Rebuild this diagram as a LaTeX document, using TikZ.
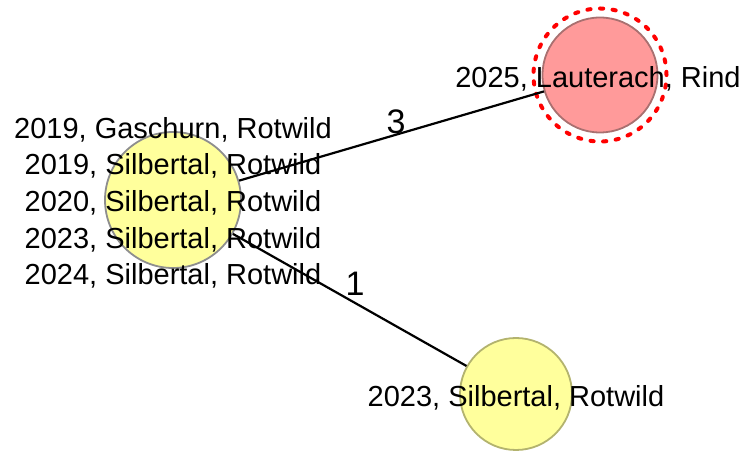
\documentclass[tikz,border=0pt]{standalone}
\usepackage{fontspec}
\setmainfont{Liberation Sans}
\definecolor{nodeyellow}{HTML}{FFFF9C}
\definecolor{nodepink}{HTML}{FF9A9A}
\definecolor{rimgray}{HTML}{8E8E8E}
\definecolor{rimolive}{HTML}{B3B36E}
\definecolor{rimrose}{HTML}{A97070}
\tikzset{
  vertex/.style={circle, draw, line width=1.8pt, inner sep=0pt},
  yellowvertex/.style={vertex, fill=nodeyellow, draw=rimgray},
  pinkvertex/.style={vertex, fill=nodepink, draw=rimrose},
  vlabel/.style={font=\fontsize{29}{36.7}\selectfont, align=center, inner sep=0pt, anchor=base},
  elabel/.style={font=\fontsize{34}{40}\selectfont, inner sep=0pt, anchor=base},
  link/.style={line width=2.2pt, black},
  halo/.style={draw=red, line width=4pt, dash pattern=on 3.2pt off 9.46pt, line cap=round}
}
\begin{document}
\begin{tikzpicture}[x=1pt, y=1pt]
  \useasboundingbox (0,0) rectangle (750,452);
  % vertices
  \node[yellowvertex, minimum size=136pt] (A) at (173,252) {};
  \node[pinkvertex, minimum size=115pt] (B) at (600,377) {};
  \node[yellowvertex, draw=rimolive, minimum size=112pt] (C) at (516,58) {};
  % highlight ring around the selected vertex
  \draw[halo] (B.center) circle[radius=66.5pt];
  % edges
  \draw[link] (A) -- (B);
  \draw[link] (A) -- (C);
  % edge weights
  \node[elabel] (wAB) at (396,318) {3};
  \node[elabel] (wAC) at (355,156) {1};
  % vertex labels (the base anchor sits on the last line)
  \node[vlabel] (lA) at (173,167) {2019, Gaschurn, Rotwild\\2019, Silbertal, Rotwild\\2020, Silbertal, Rotwild\\2023, Silbertal, Rotwild\\2024, Silbertal, Rotwild};
  \node[vlabel] (lB) at (598,364) {2025, Lauterach, Rind};
  \node[vlabel] (lC) at (516,45) {2023, Silbertal, Rotwild};
\end{tikzpicture}
\end{document}
